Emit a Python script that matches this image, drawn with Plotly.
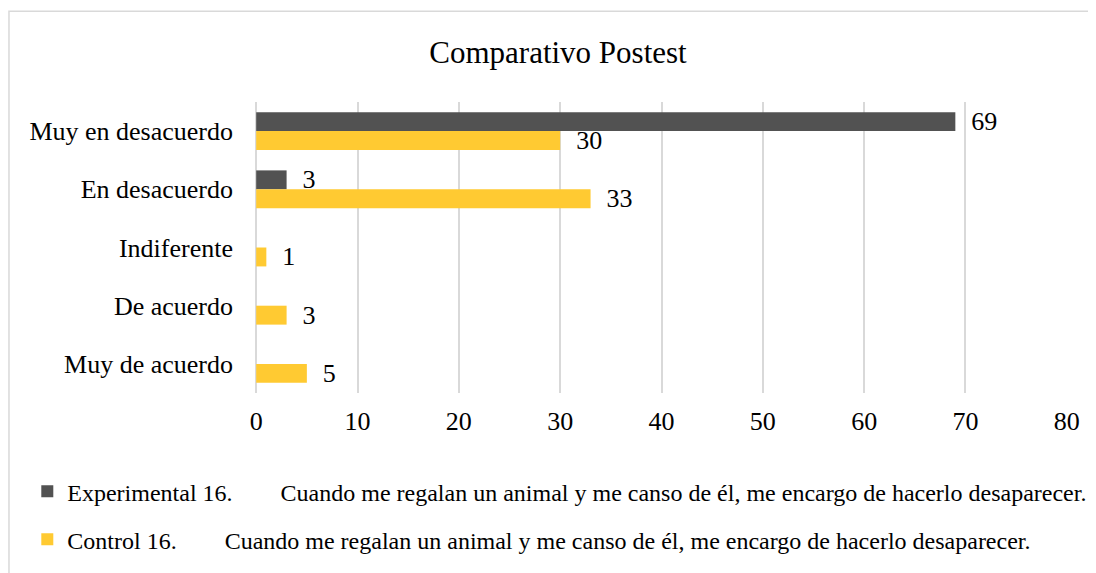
import plotly.graph_objects as go

# Data
categories = ["Muy en desacuerdo", "En desacuerdo", "Indiferente", "De acuerdo", "Muy de acuerdo"]
experimental = [69, 3, 0, 0, 0]
control = [30, 33, 1, 3, 5]
x_ticks = [0, 10, 20, 30, 40, 50, 60, 70, 80]

TAB = "\u00a0" * 8
name_exp = "Experimental 16." + TAB + "Cuando me regalan un animal y me canso de él, me encargo de hacerlo desaparecer."
name_ctl = "Control 16." + TAB + "Cuando me regalan un animal y me canso de él, me encargo de hacerlo desaparecer."

COLORS = {"dark": "#525252", "yellow": "#FFCA32", "grid": "#D9D9D9"}
FONT = "Liberation Serif, Times New Roman, serif"

# the page body has an 8px margin, so the figure is 8px smaller than the window
W, H = 1088, 565


def _labels(vals):
    return ["\u00a0\u00a0" + str(v) if v else "" for v in vals]


fig = go.Figure()

fig.add_trace(go.Bar(
    y=categories,
    x=experimental,
    orientation="h",
    name=name_exp,
    legendgroup="exp",
    marker=dict(color=COLORS["dark"], line=dict(width=0)),
    text=_labels(experimental),
    textposition="outside",
    constraintext="none",
    textfont=dict(size=26, color="black", family=FONT),
    cliponaxis=False,
))

fig.add_trace(go.Bar(
    y=categories,
    x=control,
    orientation="h",
    name=name_ctl,
    legendgroup="ctl",
    marker=dict(color=COLORS["yellow"], line=dict(width=0)),
    text=_labels(control),
    textposition="outside",
    constraintext="none",
    textfont=dict(size=26, color="black", family=FONT),
    cliponaxis=False,
))

# chart frame
fig.add_shape(
    type="rect", xref="paper", yref="paper",
    x0=-0.3046, x1=1.1, y0=-1.0, y1=1.3116,
    line=dict(color="#D9D9D9", width=1.5),
    fillcolor="rgba(0,0,0,0)",
    layer="below",
)

fig.update_layout(
    width=W,
    height=H,
    margin=dict(l=248, r=29, t=94, b=179),
    paper_bgcolor="white",
    plot_bgcolor="white",
    font=dict(family=FONT, size=26, color="black"),
    title=dict(
        text="Comparativo Postest",
        x=550 / W, xanchor="center",
        y=1 - 44 / H, yanchor="middle",
        font=dict(size=31, family=FONT, color="black"),
    ),
    barmode="group",
    bargap=0.35,
    bargroupgap=0,
    xaxis=dict(
        range=[-0.02, 80.02],
        tickvals=x_ticks,
        showgrid=True,
        gridcolor=COLORS["grid"],
        gridwidth=1.5,
        zeroline=True,
        zerolinecolor=COLORS["grid"],
        zerolinewidth=1.5,
        showline=False,
        ticks="",
        ticklabelstandoff=10,
        tickfont=dict(size=26, family=FONT),
    ),
    yaxis=dict(
        autorange="reversed",
        showgrid=False,
        zeroline=False,
        showline=False,
        ticks="",
        ticklabelstandoff=22,
        tickfont=dict(size=26, family=FONT),
    ),
    showlegend=True,
    legend=dict(
        x=-0.282, y=-0.257,
        xanchor="left", yanchor="top",
        traceorder="grouped",
        tracegroupgap=14,
        font=dict(size=24, family=FONT, color="black"),
        itemwidth=30,
        bgcolor="rgba(0,0,0,0)",
    ),
)

fig.write_html("out.html")
